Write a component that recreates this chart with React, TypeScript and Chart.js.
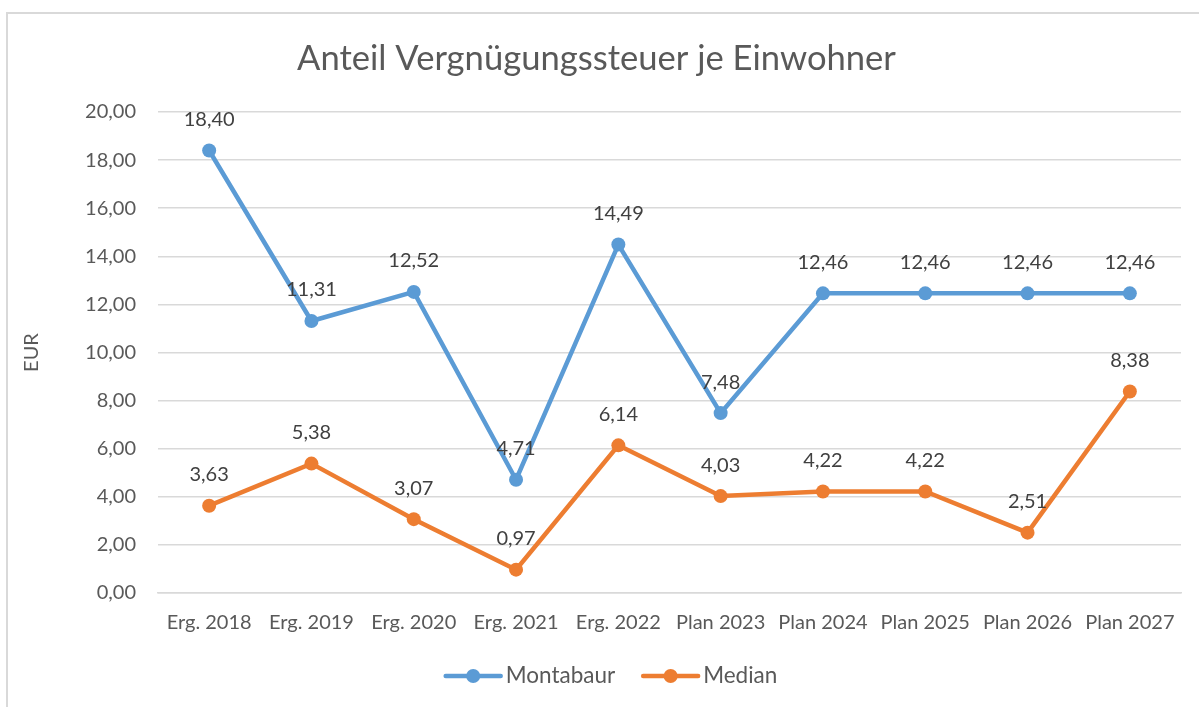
import React, { useEffect, useRef } from "react";
import { Chart, registerables } from "chart.js";

Chart.register(...registerables);

const categories = [
  "Erg. 2018", "Erg. 2019", "Erg. 2020", "Erg. 2021", "Erg. 2022",
  "Plan 2023", "Plan 2024", "Plan 2025", "Plan 2026", "Plan 2027",
];
const montabaur = [18.4, 11.31, 12.52, 4.71, 14.49, 7.48, 12.46, 12.46, 12.46, 12.46];
const median = [3.63, 5.38, 3.07, 0.97, 6.14, 4.03, 4.22, 4.22, 2.51, 8.38];
const seriesNames = ["Montabaur", "Median"];
const seriesColors = ["#5B9BD5", "#ED7D31"];
const titleText = "Anteil Vergnügungssteuer je Einwohner";
const yAxisTitle = "EUR";

const FONT = "Lato, 'Noto Sans', sans-serif";
const fmt = (v: number) => v.toFixed(2).replace(".", ",");

const dataLabelPlugin = {
  id: "dataLabels",
  afterDatasetsDraw(chart: any) {
    const ctx = chart.ctx;
    ctx.save();
    ctx.font = `20px ${FONT}`;
    ctx.fillStyle = "#404040";
    ctx.textAlign = "center";
    ctx.textBaseline = "middle";
    chart.data.datasets.forEach((ds: any, di: number) => {
      const meta = chart.getDatasetMeta(di);
      meta.data.forEach((pt: any, i: number) => {
        ctx.fillText(fmt(ds.data[i]), pt.x, pt.y - 31);
      });
    });
    ctx.restore();
  },
};

const legendPlugin = {
  id: "customLegend",
  afterDraw(chart: any) {
    const ctx = chart.ctx;
    ctx.save();
    ctx.font = `22.5px ${FONT}`;
    ctx.textBaseline = "middle";
    const lineLen = 55;
    const gap = 5;
    const itemGap = 28;
    const items = chart.data.datasets.map((ds: any) => ({
      label: ds.label,
      color: ds.borderColor,
      w: lineLen + gap + ctx.measureText(ds.label).width,
    }));
    const total = items.reduce((s: number, it: any) => s + it.w, 0) + itemGap * (items.length - 1);
    let x = chart.width / 2 - total / 2 + 12;
    const y = 676;
    items.forEach((it: any) => {
      ctx.strokeStyle = it.color;
      ctx.lineWidth = 4.5;
      ctx.lineCap = "round";
      ctx.beginPath();
      ctx.moveTo(x, y);
      ctx.lineTo(x + lineLen, y);
      ctx.stroke();
      ctx.fillStyle = it.color;
      ctx.beginPath();
      ctx.arc(x + lineLen / 2, y, 7, 0, Math.PI * 2);
      ctx.fill();
      ctx.fillStyle = "#595959";
      ctx.textAlign = "left";
      ctx.fillText(it.label, x + lineLen + gap, y);
      x += it.w + itemGap;
    });
    ctx.restore();
  },
};

export default function App() {
  const ref = useRef<HTMLCanvasElement | null>(null);
  useEffect(() => {
    if (!ref.current) return;
    const chart = new Chart(ref.current, {
      type: "line",
      data: {
        labels: categories,
        datasets: [
          {
            label: seriesNames[0],
            data: montabaur,
            borderColor: seriesColors[0],
            backgroundColor: seriesColors[0],
            borderWidth: 4.5,
            pointRadius: 7,
            pointHoverRadius: 7,
            pointBorderWidth: 0,
            tension: 0,
          },
          {
            label: seriesNames[1],
            data: median,
            borderColor: seriesColors[1],
            backgroundColor: seriesColors[1],
            borderWidth: 4.5,
            pointRadius: 7,
            pointHoverRadius: 7,
            pointBorderWidth: 0,
            tension: 0,
          },
        ],
      },
      options: {
        responsive: false,
        animation: false,
        layout: { padding: { top: 38, left: 12, right: 18, bottom: 70 } },
        plugins: {
          legend: { display: false },
          tooltip: { enabled: false },
          title: {
            display: true,
            text: titleText,
            color: "#595959",
            font: { family: FONT, size: 34.6, weight: "normal" },
            padding: { top: 0, bottom: 32.5 },
          },
        },
        scales: {
          x: {
            type: "category",
            offset: true,
            grid: { display: false, drawTicks: false },
            border: { display: true, color: "#d9d9d9", width: 1.5 },
            ticks: {
              color: "#595959",
              font: { family: FONT, size: 20 },
              padding: 18,
              maxRotation: 0,
              autoSkip: false,
            },
            afterFit: (scale: any) => {
              scale.height = 707 - 70 - 593;
            },
          },
          y: {
            min: 0,
            max: 20,
            grid: { color: "#d9d9d9", lineWidth: 1.5, drawTicks: false },
            border: { display: false },
            ticks: {
              stepSize: 2,
              color: "#595959",
              font: { family: FONT, size: 20 },
              padding: 22,
              callback: (v: any) => fmt(Number(v)),
            },
            title: {
              display: true,
              text: yAxisTitle,
              color: "#595959",
              font: { family: FONT, size: 20 },
              padding: { top: 8, bottom: 6 },
            },
            afterFit: (scale: any) => {
              scale.width = 158 - 12;
            },
          },
        },
      },
      plugins: [dataLabelPlugin, legendPlugin],
    });
    return () => chart.destroy();
  }, []);

  return (
    <div style={{ position: "fixed", left: 0, top: 0, width: 1199, height: 707, background: "#fff", overflow: "hidden" }}>
      <div
        style={{
          position: "absolute",
          left: 6,
          top: 12,
          width: 1300,
          height: 800,
          border: "2px solid #d9d9d9",
          boxSizing: "border-box",
        }}
      />
      <canvas ref={ref} width={1199} height={707} style={{ position: "absolute", left: 0, top: 0 }} />
    </div>
  );
}
